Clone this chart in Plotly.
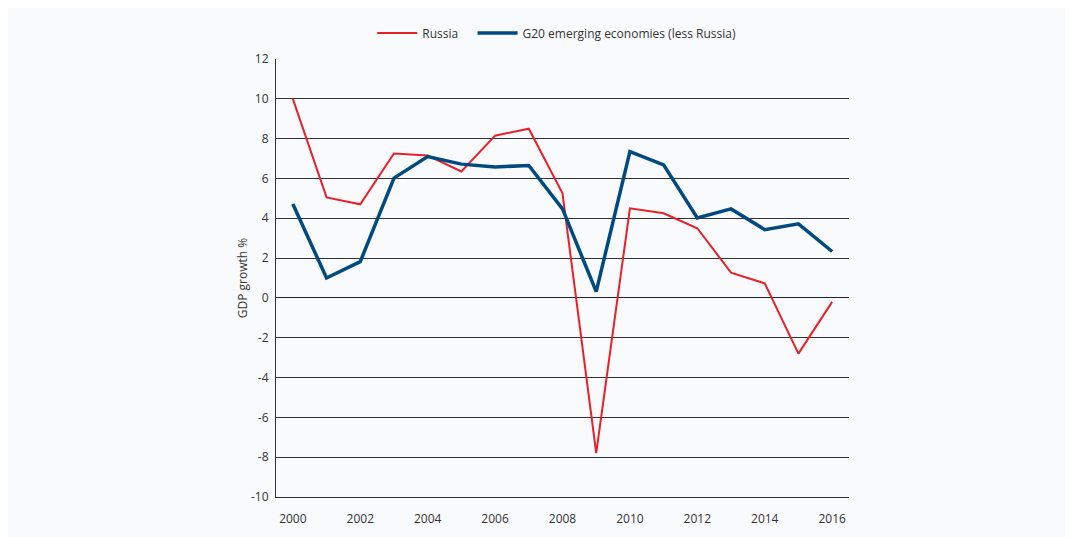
import plotly.graph_objects as go

years = list(range(2000, 2017))
russia = [10.0, 5.05, 4.7, 7.25, 7.15, 6.35, 8.15, 8.5, 5.25, -7.8, 4.5, 4.25, 3.5, 1.27, 0.73, -2.8, -0.2]
g20 = [4.72, 1.0, 1.82, 6.02, 7.1, 6.72, 6.58, 6.65, 4.47, 0.32, 7.35, 6.68, 4.02, 4.47, 3.43, 3.72, 2.33]
y_ticks = list(range(-10, 13, 2))
y_labels = [str(v) for v in y_ticks]
x_ticks = list(range(2000, 2017, 2))

bg = "#f9fafc"
fig = go.Figure()
fig.add_trace(go.Scatter(x=years, y=russia, name="Russia   ", mode="lines",
                         line=dict(color="#e8202a", width=2)))
fig.add_trace(go.Scatter(x=years, y=g20, name="G20 emerging economies (less Russia)", mode="lines",
                         line=dict(color="#004a80", width=3.5)))

fig.update_layout(
    width=1073, height=537,
    paper_bgcolor=bg, plot_bgcolor=bg,
    margin=dict(l=268, r=232, t=50, b=48),
    font=dict(family="Open Sans, Lato, sans-serif", size=12, color="#333"),
    showlegend=True,
    legend=dict(orientation="h", x=0.49, xanchor="center", y=1.057, yanchor="middle",
                font=dict(size=12), bgcolor="rgba(0,0,0,0)", itemwidth=40),
    xaxis=dict(range=[1999.5, 2016.5], tickvals=x_ticks, showgrid=False, zeroline=False,
               showline=True, linecolor="#333", linewidth=1,
               ticks="outside", ticklen=11, tickcolor=bg, tickfont=dict(size=12)),
    yaxis=dict(range=[-10, 12], tickvals=y_ticks, ticktext=y_labels,
               showgrid=True, gridcolor="#333", gridwidth=1,
               zeroline=True, zerolinecolor="#222", zerolinewidth=1,
               showline=True, linecolor="#333", linewidth=1,
               ticks="outside", ticklen=4, tickcolor=bg, tickfont=dict(size=12),
               title=dict(text="GDP growth %", font=dict(size=12), standoff=0)),
)
fig.write_html("out.html")
